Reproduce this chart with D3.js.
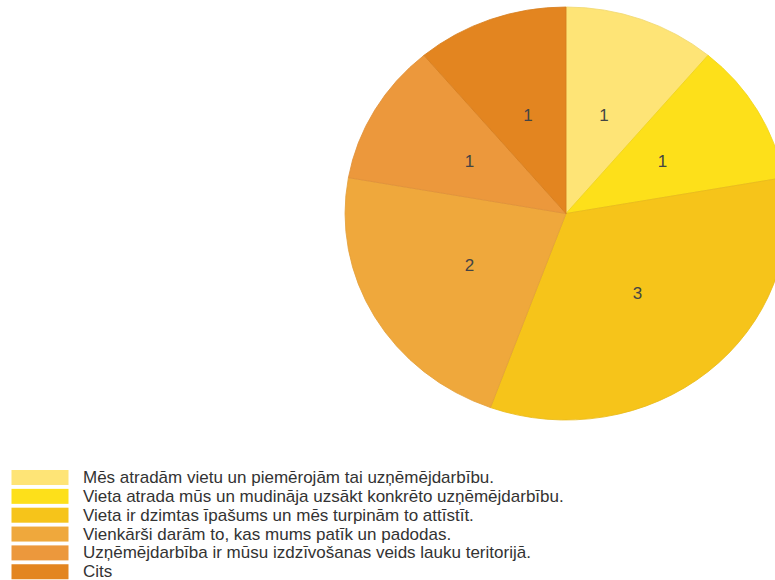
<!DOCTYPE html>
<html><head><meta charset="utf-8">
<script src="https://cdn.jsdelivr.net/npm/d3@7"></script>
<style>body{margin:0;background:#fff;overflow:hidden}svg{display:block}</style>
</head><body>
<svg id="c" width="775" height="580"></svg>
<script>
const categories = [
  "Mēs atradām vietu un piemērojām tai uzņēmējdarbību.",
  "Vieta atrada mūs un mudināja uzsākt konkrēto uzņēmējdarbību.",
  "Vieta ir dzimtas īpašums un mēs turpinām to attīstīt.",
  "Vienkārši darām to, kas mums patīk un padodas.",
  "Uzņēmējdarbība ir mūsu izdzīvošanas veids lauku teritorijā.",
  "Cits"
];
const values = [1, 1, 3, 2, 1, 1];
const colors = ["#FEE476", "#FDE01A", "#F6C41A", "#EFA83C", "#EC983C", "#E38520"];

const svg = d3.select("#c");
const cx = 566, cy = 213.5, R = 206.5, sx = 1.07;

const pie = d3.pie().sort(null).value(d => d)(values);
const arc = d3.arc().innerRadius(0).outerRadius(R);

const g = svg.append("g").attr("transform", `translate(${cx},${cy}) scale(${sx},1)`);
g.selectAll("path").data(pie).join("path")
  .attr("d", arc)
  .attr("fill", (d, i) => colors[i])
  .attr("stroke", (d, i) => d3.color(colors[i]).darker(0.15))
  .attr("stroke-width", 0.8);

const labelArc = d3.arc().innerRadius(R * 0.504).outerRadius(R * 0.504);
svg.append("g").selectAll("text").data(pie).join("text")
  .attr("x", d => cx + labelArc.centroid(d)[0] * sx)
  .attr("y", d => cy + labelArc.centroid(d)[1])
  .attr("text-anchor", "middle")
  .attr("dominant-baseline", "central")
  .attr("font-family", "Liberation Sans, Arial, sans-serif")
  .attr("font-size", 17)
  .attr("fill", "#444")
  .text(d => d.data);

const leg = svg.append("g");
const y0 = 477.5, dy = 18.85;
const rows = leg.selectAll("g").data(categories).join("g")
  .attr("transform", (d, i) => `translate(0,${y0 + i * dy})`);
rows.append("rect").attr("x", 11.5).attr("y", -7.5).attr("width", 57).attr("height", 15)
  .attr("fill", (d, i) => colors[i]);
rows.append("text").attr("x", 83).attr("y", 0)
  .attr("dominant-baseline", "central")
  .attr("font-family", "Liberation Sans, Arial, sans-serif")
  .attr("font-size", 17)
  .attr("fill", "#333")
  .text(d => d);
</script>
</body></html>
